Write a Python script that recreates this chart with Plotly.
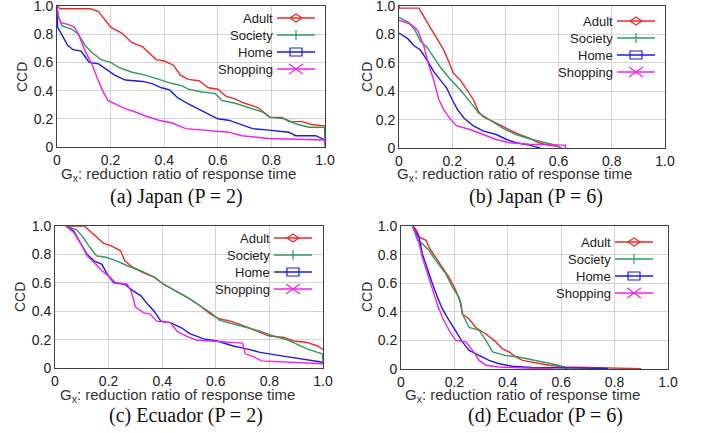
import plotly.graph_objects as go

W, H = 709, 433

# ---------------- data ----------------
SERIES = ["Adult", "Society", "Home", "Shopping"]
COLORS = {"Adult": "#f02828", "Society": "#2e9a5e", "Home": "#1a1aee", "Shopping": "#f020f0"}
TICK_VALS = [0, 0.2, 0.4, 0.6, 0.8, 1.0]
TICK_TEXT = ["0", "0.2", "0.4", "0.6", "0.8", "1.0"]
CAPTIONS = ["(a) Japan (P = 2)", "(b) Japan (P = 6)", "(c) Ecuador (P = 2)", "(d) Ecuador (P = 6)"]

# (a) Japan P=2
jp2_adult_x = [0, 0.012, 0.125, 0.155, 0.2, 0.24, 0.28, 0.32, 0.37, 0.40, 0.435, 0.46, 0.49, 0.53, 0.565, 0.60, 0.63, 0.665, 0.70, 0.75, 0.795, 0.84, 0.865, 0.915, 0.95, 1.0]
jp2_adult_y = [1.0, 0.98, 0.98, 0.96, 0.85, 0.81, 0.74, 0.71, 0.62, 0.61, 0.58, 0.51, 0.48, 0.47, 0.42, 0.41, 0.36, 0.34, 0.31, 0.28, 0.21, 0.21, 0.18, 0.18, 0.16, 0.15]
jp2_society_x = [0, 0.005, 0.017, 0.055, 0.08, 0.105, 0.13, 0.165, 0.2, 0.23, 0.28, 0.33, 0.38, 0.43, 0.465, 0.49, 0.54, 0.59, 0.615, 0.665, 0.73, 0.765, 0.795, 0.85, 0.89, 0.94, 0.998, 1.0]
jp2_society_y = [1.0, 0.93, 0.86, 0.835, 0.80, 0.72, 0.67, 0.62, 0.60, 0.565, 0.53, 0.51, 0.48, 0.45, 0.435, 0.41, 0.39, 0.38, 0.33, 0.31, 0.27, 0.25, 0.21, 0.20, 0.165, 0.14, 0.14, 0.05]
jp2_home_x = [0, 0.002, 0.02, 0.04, 0.06, 0.09, 0.105, 0.12, 0.155, 0.185, 0.215, 0.255, 0.32, 0.355, 0.39, 0.42, 0.45, 0.49, 0.53, 0.565, 0.60, 0.64, 0.69, 0.73, 0.79, 0.865, 0.89, 0.965, 1.0]
jp2_home_y = [1.0, 0.85, 0.79, 0.72, 0.69, 0.68, 0.64, 0.60, 0.59, 0.55, 0.51, 0.475, 0.465, 0.45, 0.42, 0.405, 0.35, 0.305, 0.265, 0.235, 0.20, 0.19, 0.155, 0.13, 0.12, 0.105, 0.08, 0.08, 0.05]
jp2_shop_x = [0, 0.005, 0.017, 0.04, 0.065, 0.08, 0.105, 0.13, 0.15, 0.17, 0.19, 0.21, 0.255, 0.29, 0.33, 0.38, 0.43, 0.48, 0.555, 0.64, 0.69, 0.79, 0.998, 1.0]
jp2_shop_y = [1.0, 0.92, 0.88, 0.87, 0.85, 0.80, 0.68, 0.59, 0.49, 0.40, 0.33, 0.31, 0.27, 0.25, 0.22, 0.19, 0.17, 0.13, 0.12, 0.105, 0.08, 0.06, 0.05, 0.0]

# (b) Japan P=6
jp6_adult_x = [0, 0.002, 0.075, 0.094, 0.12, 0.143, 0.168, 0.19, 0.205, 0.23, 0.255, 0.28, 0.298, 0.316, 0.35, 0.40, 0.44, 0.49, 0.525, 0.56, 0.60, 0.61]
jp6_adult_y = [1.0, 0.985, 0.985, 0.92, 0.84, 0.77, 0.69, 0.595, 0.525, 0.48, 0.41, 0.34, 0.26, 0.22, 0.19, 0.14, 0.105, 0.07, 0.037, 0.02, 0.01, 0.0]
jp6_society_x = [0, 0.036, 0.06, 0.08, 0.105, 0.13, 0.155, 0.19, 0.23, 0.265, 0.30, 0.34, 0.39, 0.44, 0.50, 0.55, 0.59, 0.605]
jp6_society_y = [0.92, 0.885, 0.83, 0.755, 0.71, 0.64, 0.57, 0.49, 0.41, 0.33, 0.245, 0.20, 0.14, 0.095, 0.06, 0.037, 0.02, 0.0]
jp6_home_x = [0, 0.033, 0.057, 0.08, 0.105, 0.13, 0.155, 0.18, 0.2, 0.22, 0.245, 0.28, 0.316, 0.365, 0.405, 0.44, 0.49, 0.53]
jp6_home_y = [0.81, 0.77, 0.72, 0.69, 0.62, 0.54, 0.48, 0.42, 0.34, 0.27, 0.21, 0.155, 0.12, 0.095, 0.06, 0.037, 0.02, 0.0]
jp6_shop_x = [0, 0.045, 0.07, 0.095, 0.11, 0.13, 0.15, 0.168, 0.19, 0.217, 0.267, 0.316, 0.365, 0.415, 0.49, 0.625, 0.626]
jp6_shop_y = [0.90, 0.87, 0.83, 0.71, 0.595, 0.48, 0.34, 0.27, 0.21, 0.155, 0.13, 0.095, 0.06, 0.037, 0.026, 0.02, 0.0]

# (c) Ecuador P=2
ec2_adult_x = [0.04, 0.11, 0.13, 0.155, 0.18, 0.21, 0.245, 0.26, 0.29, 0.33, 0.37, 0.405, 0.44, 0.49, 0.54, 0.58, 0.615, 0.655, 0.70, 0.755, 0.80, 0.855, 0.89, 0.94, 0.98, 1.0]
ec2_adult_y = [1.0, 1.0, 0.965, 0.92, 0.88, 0.86, 0.825, 0.755, 0.71, 0.67, 0.64, 0.59, 0.555, 0.50, 0.44, 0.38, 0.345, 0.33, 0.30, 0.26, 0.225, 0.215, 0.19, 0.18, 0.155, 0.13]
ec2_society_x = [0.04, 0.08, 0.105, 0.13, 0.155, 0.19, 0.23, 0.27, 0.32, 0.37, 0.405, 0.43, 0.465, 0.505, 0.54, 0.58, 0.615, 0.665, 0.715, 0.765, 0.815, 0.865, 0.90, 0.94, 0.98, 0.998, 1.0]
ec2_society_y = [1.0, 0.975, 0.92, 0.85, 0.79, 0.78, 0.755, 0.72, 0.685, 0.64, 0.59, 0.565, 0.53, 0.485, 0.44, 0.39, 0.335, 0.31, 0.285, 0.26, 0.225, 0.20, 0.17, 0.135, 0.11, 0.10, 0.05]
ec2_home_x = [0.04, 0.07, 0.095, 0.12, 0.145, 0.175, 0.195, 0.22, 0.26, 0.29, 0.32, 0.345, 0.37, 0.395, 0.43, 0.47, 0.505, 0.555, 0.605, 0.665, 0.715, 0.765, 0.84, 0.915, 0.965, 1.0]
ec2_home_y = [1.0, 0.965, 0.88, 0.80, 0.755, 0.73, 0.66, 0.60, 0.59, 0.545, 0.51, 0.45, 0.40, 0.33, 0.32, 0.285, 0.24, 0.205, 0.19, 0.155, 0.135, 0.11, 0.087, 0.063, 0.047, 0.04]
ec2_shop_x = [0.04, 0.07, 0.095, 0.12, 0.145, 0.175, 0.205, 0.225, 0.27, 0.285, 0.30, 0.33, 0.355, 0.38, 0.43, 0.455, 0.49, 0.53, 0.58, 0.70, 0.71, 0.74, 0.77, 0.90, 1.0]
ec2_shop_y = [1.0, 0.955, 0.88, 0.79, 0.745, 0.685, 0.64, 0.60, 0.59, 0.535, 0.43, 0.39, 0.38, 0.33, 0.32, 0.26, 0.225, 0.195, 0.19, 0.175, 0.10, 0.08, 0.05, 0.04, 0.03]

# (d) Ecuador P=6
ec6_adult_x = [0.043, 0.055, 0.07, 0.094, 0.105, 0.13, 0.155, 0.18, 0.205, 0.225, 0.23, 0.255, 0.28, 0.318, 0.355, 0.38, 0.405, 0.43, 0.455, 0.517, 0.554, 0.617, 0.74, 0.90]
ec6_adult_y = [1.0, 0.98, 0.92, 0.90, 0.85, 0.78, 0.71, 0.64, 0.55, 0.455, 0.385, 0.35, 0.29, 0.245, 0.19, 0.14, 0.12, 0.084, 0.06, 0.042, 0.026, 0.014, 0.007, 0.002]
ec6_society_x = [0.043, 0.062, 0.08, 0.105, 0.13, 0.168, 0.193, 0.218, 0.23, 0.255, 0.293, 0.318, 0.343, 0.39, 0.44, 0.49, 0.54, 0.59, 0.617, 0.62]
ec6_society_y = [1.0, 0.90, 0.875, 0.83, 0.76, 0.665, 0.57, 0.50, 0.385, 0.29, 0.27, 0.20, 0.12, 0.095, 0.084, 0.065, 0.042, 0.026, 0.007, 0.0]
ec6_home_x = [0.043, 0.068, 0.08, 0.10, 0.118, 0.137, 0.155, 0.18, 0.205, 0.23, 0.255, 0.293, 0.33, 0.367, 0.417, 0.49, 0.775]
ec6_home_y = [1.0, 0.92, 0.805, 0.69, 0.595, 0.50, 0.42, 0.34, 0.26, 0.19, 0.13, 0.095, 0.06, 0.037, 0.019, 0.01, 0.004]
ec6_shop_x = [0.043, 0.062, 0.08, 0.10, 0.118, 0.137, 0.155, 0.18, 0.205, 0.243, 0.268, 0.293, 0.318, 0.367, 0.49, 0.57]
ec6_shop_y = [1.0, 0.92, 0.78, 0.665, 0.55, 0.445, 0.36, 0.27, 0.20, 0.19, 0.13, 0.06, 0.026, 0.014, 0.005, 0.002]

PANELS = [
    {"Adult": (jp2_adult_x, jp2_adult_y), "Society": (jp2_society_x, jp2_society_y),
     "Home": (jp2_home_x, jp2_home_y), "Shopping": (jp2_shop_x, jp2_shop_y)},
    {"Adult": (jp6_adult_x, jp6_adult_y), "Society": (jp6_society_x, jp6_society_y),
     "Home": (jp6_home_x, jp6_home_y), "Shopping": (jp6_shop_x, jp6_shop_y)},
    {"Adult": (ec2_adult_x, ec2_adult_y), "Society": (ec2_society_x, ec2_society_y),
     "Home": (ec2_home_x, ec2_home_y), "Shopping": (ec2_shop_x, ec2_shop_y)},
    {"Adult": (ec6_adult_x, ec6_adult_y), "Society": (ec6_society_x, ec6_society_y),
     "Home": (ec6_home_x, ec6_home_y), "Shopping": (ec6_shop_x, ec6_shop_y)},
]

# ---------------- layout geometry (pixels) ----------------
# plot boxes: left, right, top, bottom
BOXES = [(57, 325, 6, 147), (399, 665, 6, 148), (55, 323, 226, 368), (401, 668, 226, 369)]
LEG_TOP = [12, 15, 12, 16]
LEG_RIGHT = [10, 10, 11, 15]
LEG_STEP = 17
XLAB_POS = [(178, 175), (514, 175), (177, 395), (522, 395)]
YLAB_POS = [(22, 77), (367, 77), (20, 297), (367, 297)]
CAP_POS = [(176, 196), (536, 196), (186, 415), (545, 415)]

fig = go.Figure()
layout = dict(
    width=W, height=H, margin=dict(l=0, r=0, t=0, b=0, autoexpand=False),
    paper_bgcolor="white", plot_bgcolor="white", showlegend=False,
    font=dict(family="Liberation Sans, Arial, sans-serif", size=14, color="#222"),
)
shapes = []
annotations = []

def px_x(p):
    return p / W

def px_y(p):
    return 1 - p / H

for i, panel in enumerate(PANELS):
    n = "" if i == 0 else str(i + 1)
    l, r, t, b = BOXES[i]
    axis_common = dict(
        range=[0, 1], tickvals=TICK_VALS, ticktext=TICK_TEXT,
        showgrid=True, gridcolor="#d4d4d4", gridwidth=1,
        showline=True, linecolor="#404040", linewidth=1, mirror=True,
        zeroline=False, ticks="", tickfont=dict(size=14, color="#222"),
        automargin=False, ticklabeloverflow="allow",
    )
    layout["xaxis" + n] = dict(axis_common, domain=[px_x(l), px_x(r)], anchor="y" + n, ticklabelstandoff=0)
    layout["yaxis" + n] = dict(axis_common, domain=[px_y(b), px_y(t)], anchor="x" + n, ticklabelstandoff=0)
    for s in SERIES:
        xs, ys = panel[s]
        fig.add_trace(go.Scatter(
            x=xs, y=ys, mode="lines", line=dict(color=COLORS[s], width=1.4),
            xaxis="x" + n, yaxis="y" + n, name=s, hoverinfo="skip"))

    # gnuplot-style legend: text on the left, line + marker sample on the right
    xr, yr = "x" + n + " domain", "y" + n + " domain"
    x_end = -LEG_RIGHT[i]
    x_start = x_end - 38
    cx = (x_start + x_end) / 2
    for k, s in enumerate(SERIES):
        cy = -(LEG_TOP[i] + k * LEG_STEP)
        c = COLORS[s]
        shapes.append(dict(type="line", xref=xr, yref=yr, xsizemode="pixel", ysizemode="pixel",
                           xanchor=1, yanchor=1, x0=x_start, x1=x_end, y0=cy, y1=cy,
                           line=dict(color=c, width=1.4)))
        if s == "Adult":
            path = f"M{cx-6},{cy} L{cx},{cy+4} L{cx+6},{cy} L{cx},{cy-4} Z"
        elif s == "Society":
            path = f"M{cx},{cy-5} L{cx},{cy+5}"
        elif s == "Home":
            path = f"M{cx-6},{cy-4} L{cx+6},{cy-4} L{cx+6},{cy+4} L{cx-6},{cy+4} Z"
        else:
            path = f"M{cx-7},{cy-5} L{cx+7},{cy+5} M{cx-7},{cy+5} L{cx+7},{cy-5}"
        shapes.append(dict(type="path", xref=xr, yref=yr, xsizemode="pixel", ysizemode="pixel",
                           xanchor=1, yanchor=1, path=path, line=dict(color=c, width=1.2)))
        annotations.append(dict(text=s, xref=xr, yref=yr, x=1, y=1, xanchor="right", yanchor="middle",
                                xshift=x_start - 2, yshift=cy, showarrow=False,
                                font=dict(size=13, color="#222")))

    annotations.append(dict(text="G<sub>x</sub>: reduction ratio of response time",
                            xref="paper", yref="paper", x=px_x(XLAB_POS[i][0]), y=px_y(XLAB_POS[i][1]),
                            xanchor="center", yanchor="middle", showarrow=False,
                            font=dict(size=15, color="#333")))
    annotations.append(dict(text="CCD", textangle=-90,
                            xref="paper", yref="paper", x=px_x(YLAB_POS[i][0]), y=px_y(YLAB_POS[i][1]),
                            xanchor="center", yanchor="middle", showarrow=False,
                            font=dict(size=14, color="#333")))
    annotations.append(dict(text=CAPTIONS[i],
                            xref="paper", yref="paper", x=px_x(CAP_POS[i][0]), y=px_y(CAP_POS[i][1]),
                            xanchor="center", yanchor="middle", showarrow=False,
                            font=dict(family="Liberation Serif, Times New Roman, serif", size=20, color="#111")))

layout["shapes"] = shapes
layout["annotations"] = annotations
fig.update_layout(**layout)
fig.write_html("out.html", config={"displayModeBar": False},
               post_script="document.body.style.margin='0';document.body.style.overflow='hidden';")
